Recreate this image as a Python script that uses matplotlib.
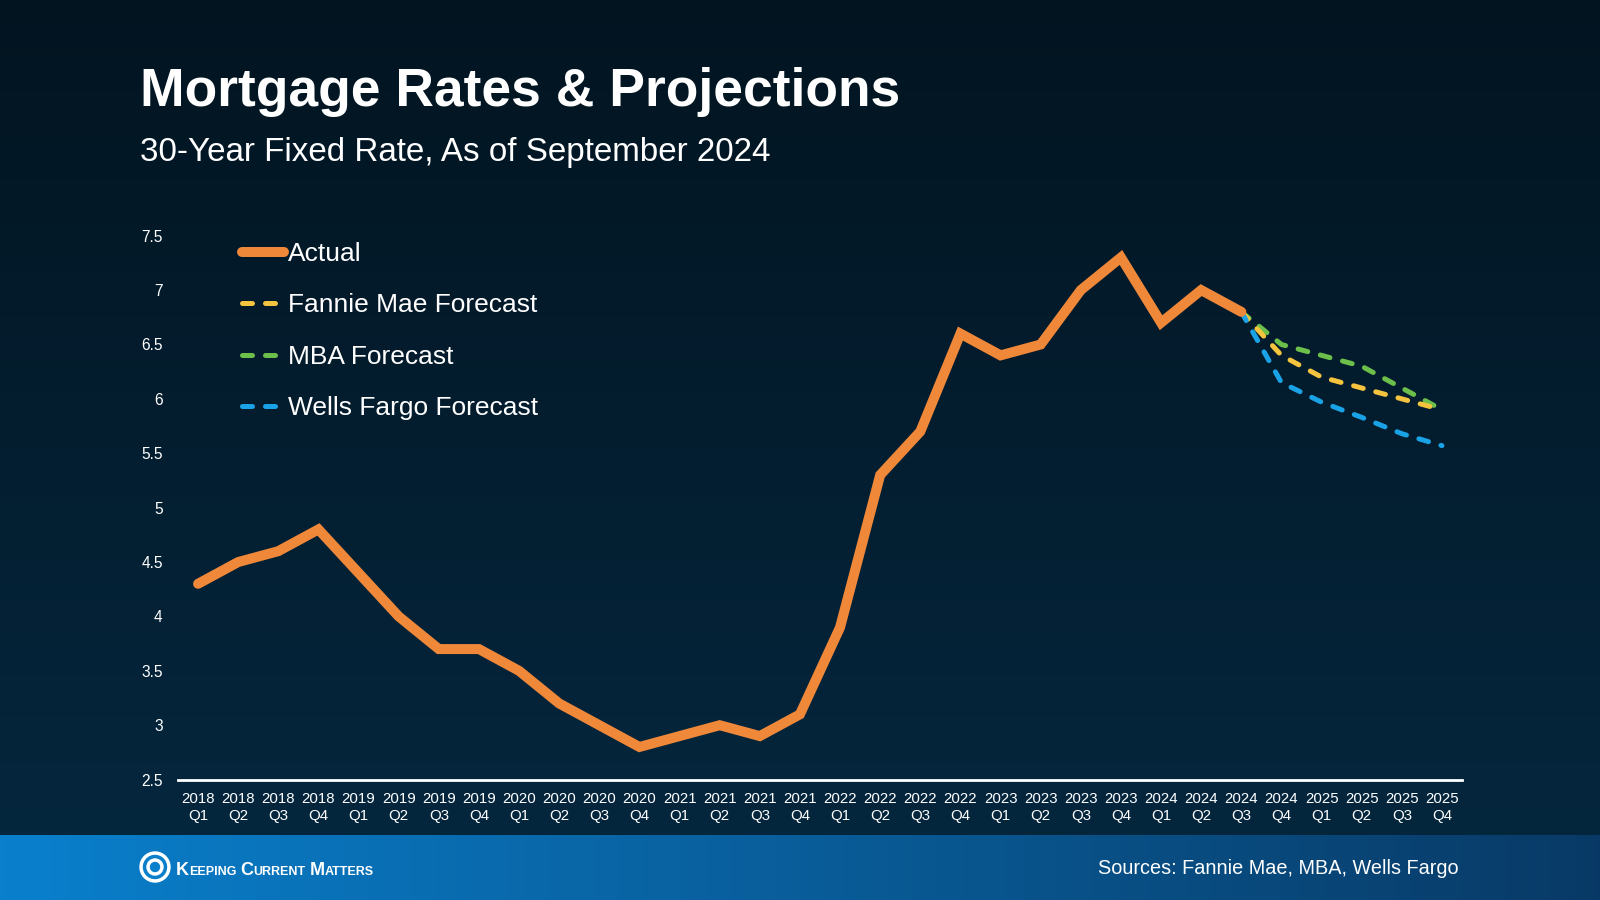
import numpy as np
import matplotlib
matplotlib.use("Agg")
from matplotlib import pyplot as plt
from matplotlib.patches import Ellipse

plt.rcParams['font.family'] = ['Liberation Sans', 'DejaVu Sans']

years = ["2018", "2019", "2020", "2021", "2022", "2023", "2024", "2025"]
quarters = ["Q1", "Q2", "Q3", "Q4"]
labels = [y + "\n" + q for y in years for q in quarters]

actual = [4.3, 4.5, 4.6, 4.8, 4.4, 4.0, 3.7, 3.7, 3.5, 3.2, 3.0, 2.8,
          2.9, 3.0, 2.9, 3.1, 3.9, 5.3, 5.7, 6.6, 6.4, 6.5, 7.0, 7.3,
          6.7, 7.0, 6.8]
# forecasts start from the last actual point (2024 Q3)
fannie = [6.8, 6.4, 6.2, 6.1, 6.0, 5.9]
mba = [6.8, 6.5, 6.4, 6.3, 6.1, 5.9]
wells = [6.8, 6.15, 5.97, 5.83, 5.68, 5.57]

orange = "#f0883a"
yellow = "#f4c43e"
green = "#6cbf4a"
blue = "#1aa2e6"

fig = plt.figure(figsize=(16, 9), dpi=100)

# background gradient
bg = fig.add_axes([0, 0, 1, 1], zorder=0)
grad = np.linspace(0, 1, 256).reshape(-1, 1)
top = np.array([2, 20, 32]) / 255
bot = np.array([5, 40, 64]) / 255
img = top + (bot - top) * grad[:, :, None]
bg.imshow(img, aspect="auto", extent=[0, 1, 0, 1], origin="upper")
# footer band
fx = np.linspace(0, 1, 256).reshape(1, -1)
left = np.array([10, 128, 205]) / 255
right = np.array([8, 58, 102]) / 255
fimg = left + (right - left) * fx[:, :, None]
bg.imshow(fimg, aspect="auto", extent=[0, 1, 0, 65 / 900], origin="upper")
bg.set_xlim(0, 1)
bg.set_ylim(0, 1)
bg.axis("off")

ax = fig.add_axes([178 / 1600, 1 - 779.6 / 900, 1284 / 1600, 543.9 / 900], zorder=2)
ax.set_facecolor("none")

x = np.arange(len(labels))
xf = x[len(actual) - 1:]

ax.plot(x[:len(actual)], actual, color=orange, lw=7.2, solid_capstyle="round",
        solid_joinstyle="miter", label="Actual", zorder=5)
ax.plot(xf, fannie, color=yellow, lw=3.6, dashes=(2.0, 2.6), dash_capstyle="round",
        label="Fannie Mae Forecast", zorder=4)
ax.plot(xf, mba, color=green, lw=3.6, dashes=(2.0, 2.6), dash_capstyle="round",
        label="MBA Forecast", zorder=3)
ax.plot(xf, wells, color=blue, lw=3.6, dashes=(2.0, 2.6), dash_capstyle="round",
        label="Wells Fargo Forecast", zorder=4)

ax.set_xlim(-0.5, len(labels) - 0.5)
ax.set_ylim(2.5, 7.5)
ax.set_yticks(np.arange(2.5, 7.6, 0.5))
ax.set_yticklabels(["2.5", "3", "3.5", "4", "4.5", "5", "5.5", "6", "6.5", "7", "7.5"])
ax.set_xticks(x)
ax.set_xticklabels(labels, linespacing=1.25)
ax.tick_params(axis="both", length=0, colors="white", labelsize=10.8)
ax.tick_params(axis="y", labelsize=11.2, pad=11)
ax.tick_params(axis="x", pad=9)
for s in ["top", "right", "left"]:
    ax.spines[s].set_visible(False)
ax.spines["bottom"].set_color("white")
ax.spines["bottom"].set_linewidth(2)

leg = ax.legend(loc="upper left", bbox_to_anchor=(242 / 1600, 1 - 242 / 900),
                bbox_transform=fig.transFigure, frameon=False, fontsize=19,
                handlelength=1.6, handletextpad=0.15, labelspacing=1.04,
                borderpad=0, borderaxespad=0)
for t in leg.get_texts():
    t.set_color("white")

fig.text(140 / 1600, 1 - 92 / 900, "Mortgage Rates & Projections", color="white",
         fontsize=38.4, fontweight="bold", va="center", ha="left")
fig.text(140 / 1600, 1 - 153 / 900, "30-Year Fixed Rate, As of September 2024",
         color="white", fontsize=23.9, va="center", ha="left")
fig.text(1459 / 1600, 1 - 868 / 900, "Sources: Fannie Mae, MBA, Wells Fargo",
         color="white", fontsize=14.3, va="center", ha="right")

# logo
cx, cy = 155 / 1600, 1 - 867 / 900
for r, c in [(15, "white"), (11.5, "#0a7fcb"), (8, "white"), (4.5, "#0a7fcb")]:
    bg.add_patch(Ellipse((cx, cy), 2 * r / 1600, 2 * r / 900, color=c, zorder=3))

renderer = fig.canvas.get_renderer()
xpos = 176 / 1600
for word in ["Keeping", "Current", "Matters"]:
    for i, part in enumerate([word[0], word[1:].upper()]):
        t = fig.text(xpos, 1 - 875 / 900, part, color="white",
                     fontsize=13 if i == 0 else 9, fontweight="bold",
                     ha="left", va="baseline")
        bb = t.get_window_extent(renderer)
        xpos += bb.width / 1600
    xpos += 4 / 1600

fig.savefig("out.png", dpi=100)
